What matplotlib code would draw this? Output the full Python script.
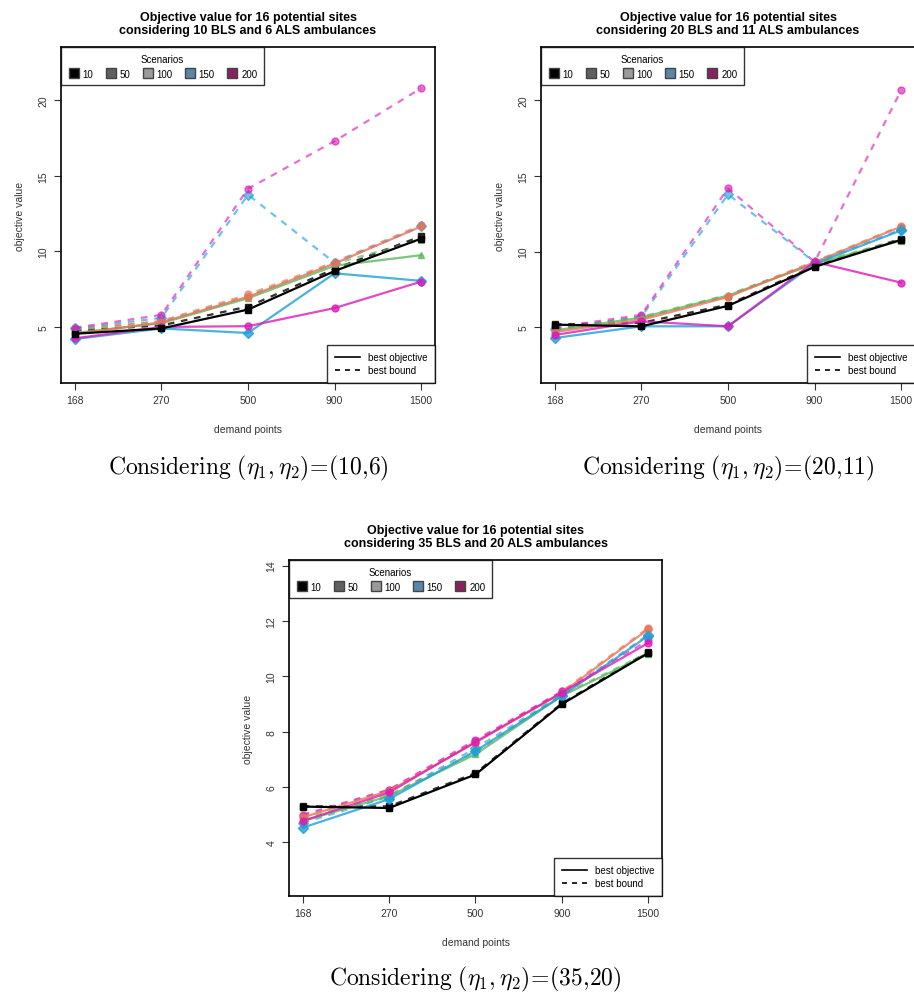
import numpy as np
import matplotlib
matplotlib.use("Agg")
import matplotlib.pyplot as plt
from matplotlib.lines import Line2D

plt.rcParams['font.family'] = ['Liberation Sans', 'DejaVu Sans']
plt.rcParams['mathtext.fontset'] = 'cm'

demand = ["168", "270", "500", "900", "1500"]
scenarios = ["10", "50", "100", "150", "200"]

# (eta1, eta2) = (10, 6)
p1_obj = [[4.55, 4.9, 6.15, 8.7, 10.85],
          [4.6, 5.25, 6.9, 9.05, 9.75],
          [4.55, 5.3, 7.0, 9.2, 11.65],
          [4.2, 4.9, 4.6, 8.55, 8.05],
          [4.25, 5.0, 5.05, 6.25, 8.0]]
p1_bnd = [[4.75, 5.1, 6.35, 8.85, 11.0],
          [4.8, 5.35, 7.05, 9.2, 10.75],
          [4.85, 5.4, 7.15, 9.3, 11.75],
          [4.9, 5.6, 13.75, 9.25, 11.65],
          [4.95, 5.8, 14.15, 17.3, 20.8]]

# (eta1, eta2) = (20, 11)
p2_obj = [[5.18, 5.07, 6.42, 8.99, 10.78],
          [4.8, 5.65, 7.1, 9.2, 10.72],
          [4.7, 5.5, 7.0, 9.3, 11.65],
          [4.3, 5.07, 5.07, 9.2, 11.4],
          [4.5, 5.4, 5.07, 9.32, 7.95]]
p2_bnd = [[5.2, 5.3, 6.5, 9.05, 10.85],
          [4.9, 5.7, 7.15, 9.25, 10.8],
          [4.85, 5.6, 7.1, 9.35, 11.7],
          [4.9, 5.7, 13.78, 9.3, 11.45],
          [5.0, 5.83, 14.18, 9.32, 20.65]]

# (eta1, eta2) = (35, 20)
p3_obj = [[5.29, 5.24, 6.45, 8.99, 10.84],
          [4.77, 5.67, 7.18, 9.29, 10.8],
          [4.9, 5.86, 7.6, 9.4, 11.7],
          [4.53, 5.56, 7.3, 9.29, 11.46],
          [4.77, 5.8, 7.63, 9.41, 11.2]]
p3_bnd = [[5.3, 5.3, 6.5, 9.02, 10.88],
          [4.85, 5.72, 7.25, 9.33, 10.85],
          [4.95, 5.9, 7.65, 9.45, 11.75],
          [4.7, 5.65, 7.4, 9.33, 11.5],
          [5.0, 5.9, 7.7, 9.45, 11.3]]

colors = ["#000000", "#5cb85c", "#e8735a", "#1e9fd8", "#dc1cb8"]
markers = ["s", "^", "o", "D", "o"]
swatch = ["#000000", "#606060", "#9a9a9a", "#5a86a8", "#8a2060"]

W, H = 914, 995
fig = plt.figure(figsize=(W / 100, H / 100), dpi=100)


def box(l, t, r, b):
    return [l / W, 1 - b / H, (r - l) / W, (b - t) / H]


def panel(rect, obj, bnd, ylim, yticks, title, caption, cap_y):
    ax = fig.add_axes(box(*rect))
    x = np.arange(1, len(demand) + 1)
    for i in range(len(scenarios)):
        a = 1.0 if i == 0 else 0.8
        ax.plot(x, obj[i], color=colors[i], lw=1.6, alpha=a,
                marker=markers[i], ms=5, zorder=3 + (i == 0))
        ax.plot(x, bnd[i], color=colors[i], lw=1.6, alpha=a * 0.8,
                ls=(0, (3, 3)), marker=markers[i], ms=5, zorder=2)
    ax.set_xlim(0.84, 5.16)
    ax.set_ylim(*ylim)
    ax.set_xticks(x)
    ax.set_xticklabels(demand)
    ax.set_yticks(yticks)
    ax.set_yticklabels([str(t) for t in yticks], rotation=90, va="center")
    ax.tick_params(labelsize=7.5, length=5, width=0.8, color="#333333",
                   labelcolor="#333333", pad=4)
    for s in ax.spines.values():
        s.set_linewidth(1.2)
    ax.set_xlabel("demand points", fontsize=7.5, color="#333333", labelpad=13)
    ax.set_ylabel("objective value", fontsize=7.5, color="#333333", labelpad=10)
    ax.set_title(title, fontsize=9, fontweight="bold", pad=10,
                 linespacing=1.15)

    sc = [Line2D([], [], ls="none", marker="s", ms=7, mfc=swatch[i],
                 mec="#444444", label=scenarios[i]) for i in range(5)]
    leg1 = ax.legend(handles=sc, title="Scenarios", ncol=5, loc="upper left",
                     fontsize=7, title_fontsize=7, frameon=True,
                     fancybox=False, edgecolor="black", borderaxespad=0,
                     handletextpad=0.3, columnspacing=1.2,
                     handlelength=1.2, borderpad=0.7)
    leg1.get_frame().set_linewidth(1.0)
    ax.add_artist(leg1)
    ls = [Line2D([], [], color="black", lw=1.2, label="best objective"),
          Line2D([], [], color="black", lw=1.2, ls=(0, (3, 3)),
                 label="best bound")]
    leg2 = ax.legend(handles=ls, loc="lower right", fontsize=7,
                     frameon=True, fancybox=False, edgecolor="black",
                     borderaxespad=0, handlelength=2.6, labelspacing=0.3,
                     borderpad=0.8)
    leg2.get_frame().set_linewidth(1.0)

    cx = (rect[0] + rect[2]) / 2
    fig.text(cx / W, 1 - cap_y / H, caption, ha="center", va="center",
             fontsize=17)
    return ax


panel((61, 48, 435, 384), p1_obj, p1_bnd, (1.29, 23.53), [5, 10, 15, 20],
      "Objective value for 16 potential sites\nconsidering 10 BLS and 6 ALS ambulances",
      r"$\mathrm{Considering}\ (\eta_1,\eta_2)\!=\!\mathrm{(10{,}6)}$", 468)
panel((541, 48, 915, 384), p2_obj, p2_bnd, (1.33, 23.5), [5, 10, 15, 20],
      "Objective value for 16 potential sites\nconsidering 20 BLS and 11 ALS ambulances",
      r"$\mathrm{Considering}\ (\eta_1,\eta_2)\!=\!\mathrm{(20{,}11)}$", 468)
panel((289, 561, 662, 897), p3_obj, p3_bnd, (2.06, 14.2), [4, 6, 8, 10, 12, 14],
      "Objective value for 16 potential sites\nconsidering 35 BLS and 20 ALS ambulances",
      r"$\mathrm{Considering}\ (\eta_1,\eta_2)\!=\!\mathrm{(35{,}20)}$", 979)

fig.savefig("out.png", dpi=100, facecolor="white")
